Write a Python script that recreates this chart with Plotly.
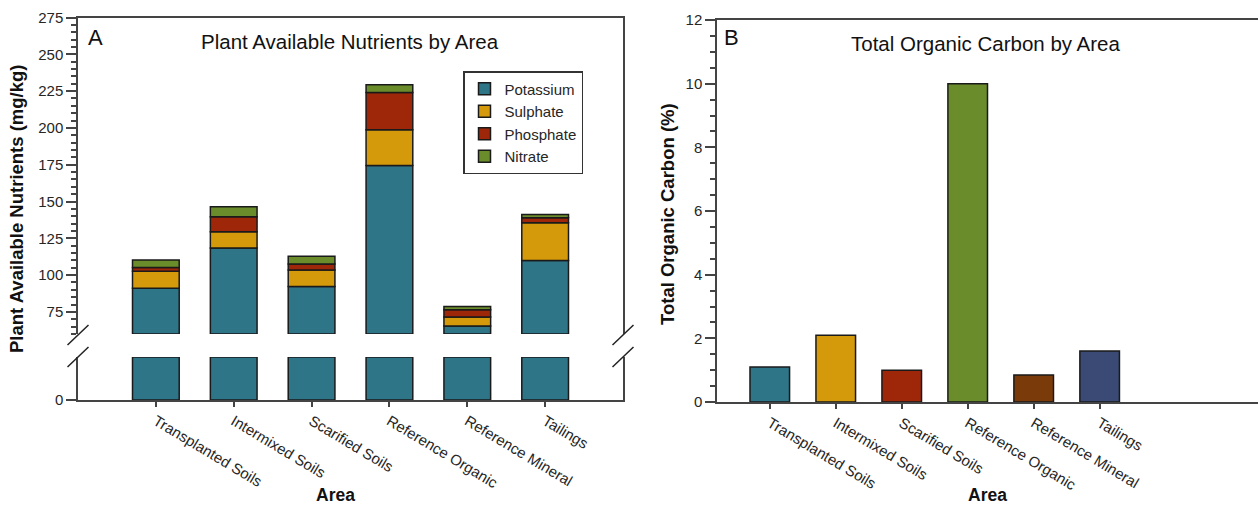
import numpy as np
import plotly.graph_objects as go

W, H = 1258, 508

# ---------------- data ----------------
areas = ["Transplanted Soils", "Intermixed Soils", "Scarified Soils",
         "Reference Organic", "Reference Mineral", "Tailings"]
potassium = [91, 118.4, 92.2, 174.4, 65.5, 110]
sulphate = [11.6, 11.1, 11.3, 24.4, 6.1, 25.6]
phosphate = [2.5, 10.1, 4.0, 25.2, 4.8, 3.4]
nitrate = [5.1, 6.8, 5.4, 5.3, 2.3, 2.2]
nutrient_names = ["Potassium", "Sulphate", "Phosphate", "Nitrate"]
nutrient_colors = ["#2e7588", "#d49a0b", "#9e270a", "#6b8c2a"]

toc = [1.1, 2.1, 1.0, 10.0, 0.85, 1.6]
toc_colors = ["#2e7588", "#d49a0b", "#9e270a", "#6b8c2a", "#7a3a0a", "#3a4a75"]

BREAK_HI = 60      # bottom of upper segment
BREAK_LO = 20      # top of lower segment
UPPER_TOP = 275

# ---------------- layout helpers ----------------
def fx(px):
    return px / W

def fy(py):
    return 1 - py / H

AX = "#444444"
TXT = "#262626"
FONT = "Liberation Sans, Arial, sans-serif"

fig = go.Figure()

idx = list(range(len(areas)))
series = [potassium, sulphate, phosphate, nitrate]
base = np.zeros(len(areas))
for name, vals, col in zip(nutrient_names, series, nutrient_colors):
    vals = np.array(vals, dtype=float)
    b = base.copy()
    h = vals.copy()
    if name == "Potassium":
        b = np.full(len(areas), BREAK_HI, dtype=float)
        h = vals - BREAK_HI
    fig.add_trace(go.Bar(x=idx, y=h, base=b, name=name, width=0.6,
                         marker=dict(color=col, line=dict(color="#1a1a1a", width=1.5)),
                         xaxis="x", yaxis="y", showlegend=True,
                         customdata=vals, hovertemplate="%{customdata}<extra>" + name + "</extra>"))
    base = base + vals

# lower segment of broken axis
low_vals = [min(v, BREAK_LO) for v in potassium]
fig.add_trace(go.Bar(x=idx, y=low_vals, width=0.6, showlegend=False, name="Potassium",
                     marker=dict(color=nutrient_colors[0], line=dict(color="#1a1a1a", width=1.5)),
                     xaxis="x2", yaxis="y2"))

# right panel
fig.add_trace(go.Bar(x=idx, y=toc, width=0.6, showlegend=False, name="TOC",
                     marker=dict(color=toc_colors, line=dict(color="#1a1a1a", width=1.5)),
                     xaxis="x3", yaxis="y3"))

# domains (pixel based)
L_X0, L_X1 = 78, 623
R_X0, R_X1 = 717, 1258
U_Y0, U_Y1 = 17.5, 334      # upper segment, px from top
D_Y0, D_Y1 = 357, 400       # lower segment
RY0, RY1 = 20, 402          # right panel

tickfont = dict(family=FONT, size=15, color=TXT)
common = dict(showgrid=False, zeroline=False, automargin=False)

fig.update_layout(
    width=W, height=H, margin=dict(l=0, r=0, t=0, b=0, autoexpand=False),
    paper_bgcolor="white", plot_bgcolor="white",
    barmode="overlay",
    font=dict(family=FONT, color=TXT),
    xaxis=dict(domain=[fx(L_X0), fx(L_X1)], anchor="y", range=[-1, 6], side="top",
               showline=True, linecolor=AX, linewidth=1.5, showticklabels=False,
               ticks="", **common),
    yaxis=dict(domain=[fy(U_Y1), fy(U_Y0)], anchor="x", range=[BREAK_HI, UPPER_TOP],
               tickvals=[75, 100, 125, 150, 175, 200, 225, 250, 275],
               ticks="outside", ticklen=10, tickwidth=1.5, tickcolor=AX,
               minor=dict(ticks="outside", ticklen=5, tickcolor=AX, dtick=5, tick0=0),
               showline=True, mirror=True, linecolor=AX, linewidth=1.5,
               tickfont=tickfont, **common),
    xaxis2=dict(domain=[fx(L_X0), fx(L_X1)], anchor="y2", range=[-1, 6],
                tickvals=idx, ticktext=areas, tickangle=31,
                ticks="outside", ticklen=5, tickwidth=1.5, tickcolor=AX,
                showline=True, linecolor=AX, linewidth=1.5,
                tickfont=tickfont, **common),
    yaxis2=dict(domain=[fy(D_Y1), fy(D_Y0)], anchor="x2", range=[0, BREAK_LO],
                tickvals=[0], ticks="outside", ticklen=10, tickwidth=1.5, tickcolor=AX,
                showline=True, mirror=True, linecolor=AX, linewidth=1.5,
                tickfont=tickfont, **common),
    xaxis3=dict(domain=[fx(R_X0), fx(R_X1)], anchor="y3", range=[-0.8, 7.4],
                tickvals=idx, ticktext=areas, tickangle=31,
                ticks="outside", ticklen=5, tickwidth=1.5, tickcolor=AX,
                showline=True, mirror=True, linecolor=AX, linewidth=1.5,
                tickfont=tickfont, **common),
    yaxis3=dict(domain=[fy(RY1), fy(RY0)], anchor="x3", range=[0, 12],
                tickvals=[0, 2, 4, 6, 8, 10, 12],
                ticks="outside", ticklen=10, tickwidth=1.5, tickcolor=AX,
                minor=dict(ticks="outside", ticklen=5, tickcolor=AX, dtick=0.5, tick0=0),
                showline=True, linecolor=AX, linewidth=1.5,
                tickfont=tickfont, **common),
    legend=dict(x=fx(463), y=fy(71), xanchor="left", yanchor="top",
                bgcolor="white", bordercolor="#333333", borderwidth=1.5,
                font=dict(family=FONT, size=15, color=TXT), traceorder="normal",
                itemwidth=30),
    showlegend=True,
)

annots = [
    dict(text="A", x=fx(86), y=fy(38), xanchor="left", yanchor="middle", font=dict(size=22)),
    dict(text="Plant Available Nutrients by Area", x=fx(350), y=fy(42), xanchor="center",
         yanchor="middle", font=dict(size=20.5)),
    dict(text="B", x=fx(722), y=fy(38), xanchor="left", yanchor="middle", font=dict(size=22)),
    dict(text="Total Organic Carbon by Area", x=fx(986), y=fy(44), xanchor="center",
         yanchor="middle", font=dict(size=20.5)),
    dict(text="<b>Plant Available Nutrients (mg/kg)</b>", x=fx(17), y=fy(209), textangle=-90,
         xanchor="center", yanchor="middle", font=dict(size=18.5)),
    dict(text="<b>Total Organic Carbon (%)</b>", x=fx(668), y=fy(214), textangle=-90,
         xanchor="center", yanchor="middle", font=dict(size=18.5)),
    dict(text="<b>Area</b>", x=fx(335), y=fy(495), xanchor="center", yanchor="middle",
         font=dict(size=17.5)),
    dict(text="<b>Area</b>", x=fx(987), y=fy(495), xanchor="center", yanchor="middle",
         font=dict(size=17.5)),
]
for a in annots:
    a.update(xref="paper", yref="paper", showarrow=False)
    a["font"] = dict(family=FONT, color="#111111", size=a["font"]["size"])
fig.update_layout(annotations=annots)

# axis break marks
shapes = []
for xc in (L_X0, L_X1):
    for yc in (U_Y1 + 1, D_Y0):
        shapes.append(dict(type="line", xref="paper", yref="paper",
                           x0=fx(xc - 10.5), y0=fy(yc + 10), x1=fx(xc + 10.5), y1=fy(yc - 10),
                           line=dict(color="#222222", width=1.5)))
fig.update_layout(shapes=shapes)

fig.write_html("out.html")
